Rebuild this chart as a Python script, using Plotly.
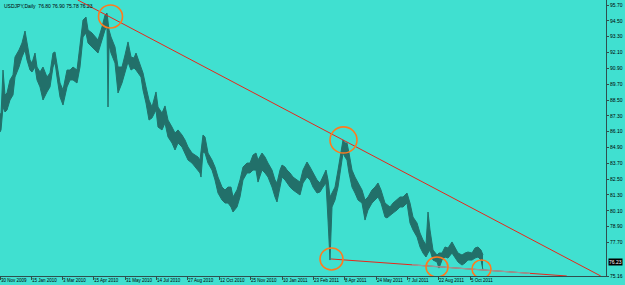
import plotly.graph_objects as go

# ---- data (bar index = trading-day position, prices) ----
bar = [0, 1, 3, 5, 7, 10, 13, 15, 19, 22, 25, 27, 30, 32, 35, 37, 40, 43, 47, 50,
       53, 55, 57, 60, 63, 67, 70, 73, 77, 80, 83, 86, 88, 92, 95, 98, 102, 105, 107, 108,
       109, 111, 115, 118, 122, 125, 128, 131, 134, 136, 139, 141, 143, 146, 149, 152, 156, 158, 162, 165,
       168, 172, 175, 178, 182, 185, 188, 192, 195, 198, 200, 201, 203, 205, 208, 212, 215, 218, 222, 225,
       228, 231, 233, 237, 240, 243, 247, 250, 253, 256, 258, 262, 265, 268, 272, 275, 277, 280, 282, 285,
       287, 290, 293, 297, 300, 303, 307, 310, 313, 317, 320, 323, 326, 328, 330, 332, 335, 338, 341, 343,
       345, 347, 349, 352, 355, 358, 362, 365, 368, 372, 375, 378, 381, 385, 387, 390, 393, 397, 400, 403,
       407, 410, 413, 417, 420, 423, 426, 428, 430, 433, 437, 439, 442, 445, 448, 452, 455, 458, 462, 465,
       468, 472, 475, 478, 481, 483]
high = [87.51, 87.36, 90.77, 88.88, 89.03, 90.02, 90.40, 91.76, 92.29, 92.82, 93.73, 92.82, 91.53, 91.30, 92.06, 91.00, 90.62, 91.00, 90.24, 90.55,
        92.06, 92.14, 91.30, 89.79, 89.26, 90.77, 90.77, 91.00, 90.77, 92.52, 94.56, 94.79, 93.81, 93.58, 93.28, 93.05, 94.03, 94.94, 95.09, 94.56,
        93.81, 93.28, 92.52, 91.00, 91.00, 91.91, 92.90, 91.76, 91.68, 92.06, 91.38, 91.00, 90.55, 89.49, 88.50, 87.97, 89.11, 87.97, 87.51, 88.05,
        86.98, 86.45, 86.00, 86.23, 85.85, 85.47, 84.94, 84.48, 84.33, 84.18, 83.95, 84.71, 85.85, 85.70, 84.48, 83.95, 83.42, 82.66, 81.90, 81.68,
        81.90, 81.90, 81.15, 81.68, 82.44, 83.42, 83.72, 83.72, 84.33, 84.48, 83.95, 84.48, 84.18, 83.72, 83.19, 82.44, 82.21, 83.19, 83.57, 83.42,
        83.19, 82.97, 82.66, 82.44, 82.28, 83.19, 83.80, 83.42, 82.97, 82.44, 82.21, 82.66, 83.19, 82.44, 81.15, 81.45, 81.90, 83.19, 84.71, 85.47,
        85.24, 85.24, 84.48, 83.19, 82.66, 82.21, 81.68, 80.92, 81.15, 81.68, 81.90, 82.21, 81.68, 80.69, 80.54, 80.39, 80.69, 80.92, 81.15, 81.15,
        81.45, 80.69, 79.63, 79.18, 78.42, 77.89, 77.51, 80.01, 78.65, 77.13, 76.75, 76.90, 76.90, 77.36, 77.28, 77.74, 77.36, 76.90, 76.75, 76.90,
        76.98, 76.90, 77.28, 77.36, 77.13, 76.75]
low = [86.07, 86.23, 87.97, 87.59, 87.74, 88.50, 88.88, 90.24, 91.00, 91.76, 92.29, 91.53, 90.77, 90.62, 91.00, 90.02, 89.49, 88.50, 89.11, 89.49,
       91.00, 91.38, 90.24, 88.73, 88.12, 89.49, 90.02, 90.02, 89.79, 91.00, 93.28, 93.58, 92.82, 92.52, 92.29, 92.06, 93.05, 93.81, 94.03, 87.97,
       92.67, 92.06, 91.30, 89.03, 89.79, 90.55, 91.38, 90.77, 90.93, 90.77, 90.40, 90.24, 89.26, 88.27, 86.98, 87.14, 87.74, 86.45, 86.23, 86.76,
       85.70, 85.24, 84.71, 85.24, 84.94, 84.48, 83.95, 83.72, 83.42, 83.19, 82.97, 82.66, 84.56, 84.48, 83.72, 83.19, 82.44, 81.45, 80.92, 80.69,
       80.69, 80.39, 80.01, 80.39, 81.15, 82.44, 82.97, 82.97, 83.19, 83.19, 82.28, 83.19, 82.97, 82.66, 81.90, 81.15, 80.77, 81.90, 82.66, 82.44,
       82.21, 81.90, 81.68, 81.45, 81.30, 82.21, 82.66, 82.44, 81.90, 81.45, 81.53, 81.90, 82.21, 79.40, 76.37, 80.39, 80.92, 81.90, 83.42, 84.48,
       84.18, 83.95, 82.97, 81.90, 81.45, 80.92, 80.69, 79.40, 80.16, 80.69, 80.92, 81.15, 80.69, 79.63, 79.56, 79.78, 79.93, 80.16, 80.39, 80.39,
       80.69, 79.18, 78.65, 78.12, 77.36, 76.90, 76.60, 76.90, 77.13, 76.37, 76.22, 75.76, 76.37, 76.60, 76.52, 76.90, 76.60, 76.22, 75.99, 76.14,
       76.37, 76.37, 76.52, 76.60, 76.37, 75.61]

date_tick_bar = [0, 31, 62, 93, 125, 156, 187, 219, 250, 282, 313, 344, 376, 407, 438, 470]
date_tick_text = ["30 Nov 2009", "15 Jan 2010", "3 Mar 2010", "15 Apr 2010", "31 May 2010",
                  "14 Jul 2010", "27 Aug 2010", "12 Oct 2010", "25 Nov 2010", "10 Jan 2011",
                  "23 Feb 2011", "8 Apr 2011", "24 May 2011", "7 Jul 2011", "22 Aug 2011", "5 Oct 2011"]
price_ticks = [95.70, 94.50, 93.30, 92.10, 90.90, 89.70, 88.50, 87.30, 86.10, 84.90,
               83.70, 82.50, 81.30, 80.10, 78.90, 77.70, 75.16]

title_text = "USDJPY,Daily  76.80 76.90 75.78 76.23"
last_price = 76.23

# trendline anchor points (bar, price)
upper_line = [(110, 94.79), (343, 85.47)]
lower_line = [(331, 76.45), (437, 75.87)]
# highlighted points (bar, price)
marks = [(110.5, 94.83), (343.5, 85.47), (331.5, 76.45), (437, 75.84), (481.5, 75.69)]

# ---- figure ----
BG = "#40E0D0"
BAR = "#22706A"
Y0, Y1 = 75.16, 96.08
X0, X1 = 0, 606

fig = go.Figure()
fig.add_trace(go.Scatter(x=bar, y=low, mode="lines", line=dict(color=BAR, width=1),
                         hoverinfo="skip", showlegend=False))
fig.add_trace(go.Scatter(x=bar, y=high, mode="lines", line=dict(color=BAR, width=1),
                         fill="tonexty", fillcolor=BAR, hoverinfo="skip", showlegend=False))

# upper trend ray until it meets the bottom edge
s_up = (upper_line[1][1] - upper_line[0][1]) / (upper_line[1][0] - upper_line[0][0])
x_end = upper_line[0][0] + (Y0 - upper_line[0][1]) / s_up
x_start = upper_line[0][0] + (Y1 - upper_line[0][1]) / s_up
fig.add_shape(type="line", xref="x", yref="y", x0=x_start, y0=Y1, x1=x_end, y1=Y0,
              line=dict(color="#E8261A", width=1))

s_lo = (lower_line[1][1] - lower_line[0][1]) / (lower_line[1][0] - lower_line[0][0])
x_end2 = lower_line[0][0] + (Y0 - lower_line[0][1]) / s_lo
fig.add_shape(type="line", xref="x", yref="y", x0=lower_line[0][0], y0=lower_line[0][1],
              x1=x_end2, y1=Y0, line=dict(color="#E8261A", width=1))
gx0, gx1 = 412, 530
fig.add_shape(type="line", xref="x", yref="y",
              x0=gx0, y0=lower_line[0][1] + s_lo * (gx0 - lower_line[0][0]),
              x1=gx1, y1=lower_line[0][1] + s_lo * (gx1 - lower_line[0][0]),
              line=dict(color="#9A9A9A", width=1.2))

# orange ellipses (radius in bars / price)
radii = [(12, 0.87), (13.5, 0.99), (11.5, 0.83), (11, 0.76), (9.5, 0.68)]
for (cx, cy), (rx, ry) in zip(marks, radii):
    fig.add_shape(type="circle", xref="x", yref="y", x0=cx - rx, x1=cx + rx,
                  y0=cy - ry, y1=cy + ry, line=dict(color="#FF7A1E", width=1.6))

fig.add_annotation(xref="paper", yref="paper", x=0.003, y=0.995, xanchor="left", yanchor="top",
                   text=title_text, showarrow=False,
                   font=dict(family="Liberation Sans", size=5, color="black"))
fig.add_annotation(xref="paper", yref="y", x=1, y=last_price, xanchor="left", yanchor="middle",
                   text=f"{last_price:.2f}", showarrow=False, bgcolor="black", borderpad=0,
                   xshift=2, font=dict(family="Liberation Sans", size=5, color="white"))

fig.update_layout(
    width=625, height=285,
    margin=dict(l=0, r=19, t=0, b=9),
    paper_bgcolor=BG, plot_bgcolor=BG,
    showlegend=False,
    xaxis=dict(range=[X0, X1], showgrid=False, zeroline=False,
               showline=True, linecolor="#2F4F4F", linewidth=1, mirror=True,
               tickmode="array", tickvals=date_tick_bar, ticktext=date_tick_text,
               ticks="outside", ticklen=3, tickcolor="#2F4F4F", tickangle=0,
               ticklabelposition="outside right",
               tickfont=dict(family="Liberation Sans", size=4.5, color="black")),
    yaxis=dict(range=[Y0, Y1], side="right", showgrid=False, zeroline=False,
               showline=True, linecolor="#2F4F4F", linewidth=1,
               tickmode="array", tickvals=price_ticks,
               ticktext=[f"{v:.2f}" for v in price_ticks],
               ticks="outside", ticklen=2, tickcolor="#2F4F4F",
               tickfont=dict(family="Liberation Sans", size=5, color="black")),
)

fig.write_html("out.html")
